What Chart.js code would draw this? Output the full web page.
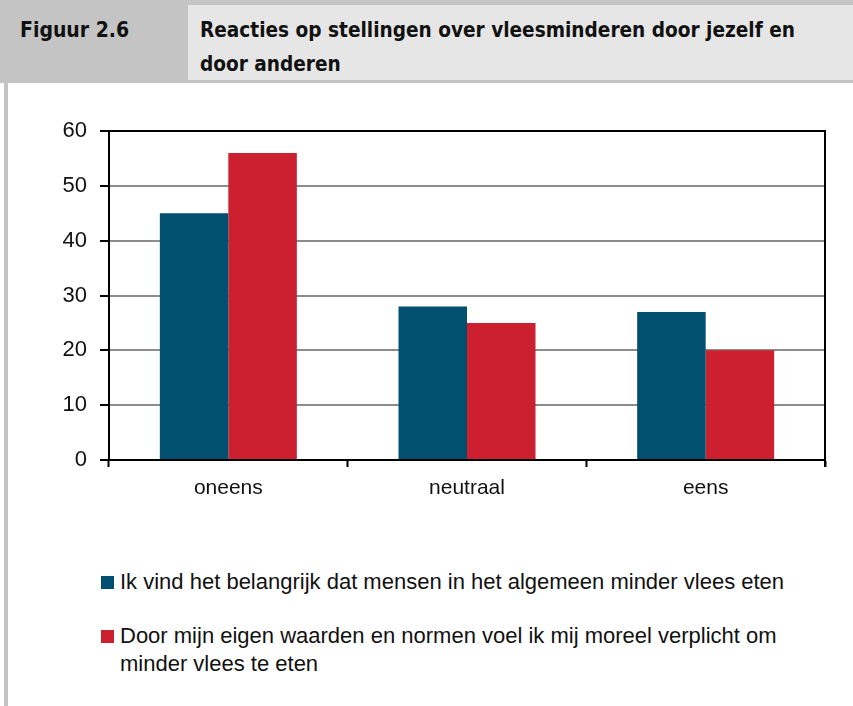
<!DOCTYPE html>
<html>
<head>
<meta charset="utf-8">
<script src="https://cdn.jsdelivr.net/npm/chart.js@4"></script>
<style>
  body { margin: 0; width: 853px; height: 706px; background: #fff; position: relative; overflow: hidden;
         font-family: "Liberation Sans Narrow", "DejaVu Sans Condensed", "Liberation Sans", sans-serif; }
  #frameLeft { position: absolute; left: 4px; top: 0; width: 4px; height: 706px; background: #c4c4c4; }
  #header { position: absolute; left: 0; top: 0; width: 853px; height: 83px; background: #c4c4c4; }
  #figNum { position: absolute; left: 20px; top: 13px; font-weight: bold; font-size: 21px; line-height: 34px; color: #111; }
  #titleCell { position: absolute; left: 188px; top: 5px; width: 665px; height: 75px; background: #e6e6e6; }
  #title { position: absolute; left: 12px; top: 8px; font-weight: bold; font-size: 20.6px; line-height: 34px; color: #111; }
  #chartBox { position: absolute; left: 0; top: 100px; width: 853px; height: 420px; }
  #legend { position: absolute; left: 101px; top: 568px; width: 712px; font-family: "Liberation Sans", sans-serif;
            font-size: 22px; color: #111; }
  .item { position: relative; padding-left: 19px; line-height: 28px; margin-bottom: 26px; }
  .swatch { position: absolute; left: 0; top: 8px; width: 13px; height: 13px; }
</style>
</head>
<body>
<div id="header">
  <div id="figNum">Figuur 2.6</div>
  <div id="titleCell"><div id="title">Reacties op stellingen over vleesminderen door jezelf en<br>door anderen</div></div>
</div>
<div id="frameLeft"></div>
<div id="chartBox"><canvas id="chart"></canvas></div>
<div id="legend"></div>

<script>
// Data
const categories = ["oneens", "neutraal", "eens"];
const seriesLabels = [
  "Ik vind het belangrijk dat mensen in het algemeen minder vlees eten",
  "Door mijn eigen waarden en normen voel ik mij moreel verplicht om minder vlees te eten"
];
const belangrijkValues = [45, 28, 27];
const moreelValues = [56, 25, 20];
const yTicks = [0, 10, 20, 30, 40, 50, 60];

const colors = ["#02506f", "#cc1f2f"];

// Black frame on top and right of the plot area
const framePlugin = {
  id: "frame",
  afterDraw(chart) {
    const { ctx, chartArea } = chart;
    ctx.save();
    ctx.strokeStyle = "#000";
    ctx.lineWidth = 2;
    ctx.beginPath();
    ctx.moveTo(chartArea.left, chartArea.top);
    ctx.lineTo(chartArea.right, chartArea.top);
    ctx.lineTo(chartArea.right, chartArea.bottom + 7);
    ctx.stroke();
    ctx.restore();
  },
};

new Chart(document.getElementById("chart"), {
  type: "bar",
  data: {
    labels: categories,
    datasets: [
      { label: seriesLabels[0], data: belangrijkValues, backgroundColor: colors[0] },
      { label: seriesLabels[1], data: moreelValues, backgroundColor: colors[1] },
    ],
  },
  options: {
    responsive: true,
    maintainAspectRatio: false,
    animation: false,
    categoryPercentage: 0.574,
    barPercentage: 1,
    layout: { padding: { top: 31, right: 28, left: 0, bottom: 0 } },
    plugins: { legend: { display: false }, tooltip: { enabled: false } },
    scales: {
      x: {
        afterFit(scale) { scale.height = 60; },
        grid: { offset: true, drawOnChartArea: false, tickLength: 7, tickColor: "#000", tickWidth: 2 },
        border: { color: "#000", width: 2 },
        ticks: { font: { family: "Liberation Sans", size: 21 }, color: "#111", padding: 9 },
      },
      y: {
        min: 0,
        max: 60,
        afterFit(scale) { scale.width = 109; },
        afterBuildTicks(scale) { scale.ticks = yTicks.map((v) => ({ value: v })); },
        grid: { color: "#8c8c8c", lineWidth: 2, tickLength: 9, tickColor: "#000", tickWidth: 2 },
        border: { color: "#000", width: 2 },
        ticks: { font: { family: "Liberation Sans", size: 22 }, color: "#111", padding: 13 },
      },
    },
  },
  plugins: [framePlugin],
});

// HTML legend so the long label can wrap
const legend = document.getElementById("legend");
seriesLabels.forEach((label, i) => {
  const item = document.createElement("div");
  item.className = "item";
  item.innerHTML = `<span class="swatch" style="background:${colors[i]}"></span>${label}`;
  legend.appendChild(item);
});
</script>
</body>
</html>
